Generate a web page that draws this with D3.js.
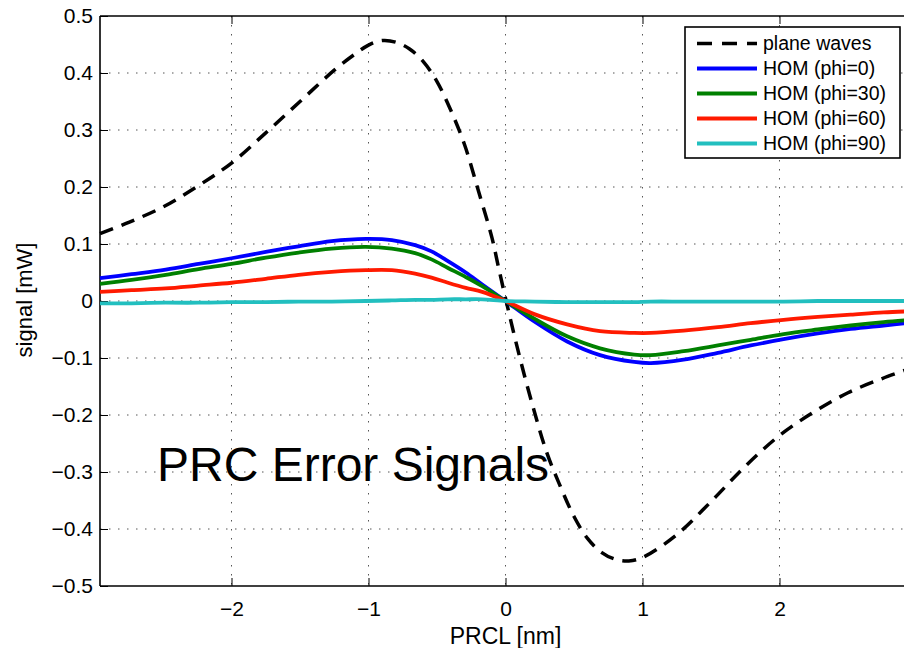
<!DOCTYPE html>
<html>
<head>
<meta charset="utf-8">
<script src="https://cdn.jsdelivr.net/npm/d3@7"></script>
<style>
html,body{margin:0;padding:0;background:#fff;}
svg{display:block;}
text{font-family:"Liberation Sans",Arial,Helvetica,sans-serif;fill:#000;}
</style>
</head>
<body>
<svg id="chart" width="904" height="648"></svg>
<script>
// ---- data ----
const planeX = [-2.96,-2.75,-2.50,-2.25,-2.00,-1.75,-1.50,-1.25,-1.10,-1.00,-0.90,-0.80,-0.70,-0.60,-0.50,-0.40,-0.30,-0.20,-0.10,-0.05,0.00,0.10,0.20,0.30,0.40,0.50,0.60,0.70,0.80,0.90,1.00,1.25,1.50,1.75,2.00,2.25,2.50,2.75,2.96];
const planeY = [0.118,0.138,0.165,0.201,0.242,0.295,0.350,0.405,0.433,0.449,0.457,0.454,0.442,0.420,0.385,0.335,0.275,0.195,0.112,0.058,0.005,-0.095,-0.185,-0.265,-0.325,-0.378,-0.417,-0.441,-0.453,-0.456,-0.450,-0.410,-0.352,-0.290,-0.236,-0.195,-0.161,-0.136,-0.118];

const homX = [-2.96,-2.73,-2.48,-2.24,-2.00,-1.75,-1.51,-1.27,-1.02,-0.83,-0.66,-0.54,-0.42,-0.29,-0.17,0.00,0.21,0.45,0.69,0.94,1.06,1.30,1.55,1.79,2.03,2.28,2.52,2.76,2.96];
const hom0  = [0.040,0.047,0.055,0.065,0.075,0.086,0.096,0.105,0.109,0.107,0.098,0.087,0.070,0.050,0.029,0.000,-0.036,-0.071,-0.095,-0.107,-0.109,-0.103,-0.091,-0.078,-0.067,-0.057,-0.049,-0.043,-0.038];
const hom30 = [0.030,0.037,0.046,0.056,0.065,0.076,0.085,0.092,0.095,0.092,0.084,0.073,0.058,0.042,0.026,0.000,-0.031,-0.062,-0.083,-0.094,-0.095,-0.088,-0.078,-0.068,-0.058,-0.050,-0.043,-0.037,-0.033];
const hom60 = [0.016,0.019,0.022,0.027,0.032,0.039,0.046,0.051,0.054,0.054,0.048,0.041,0.032,0.023,0.016,0.000,-0.023,-0.041,-0.053,-0.056,-0.056,-0.052,-0.046,-0.039,-0.033,-0.028,-0.024,-0.020,-0.018];
const hom90 = [-0.004,-0.004,-0.003,-0.003,-0.002,-0.002,-0.001,-0.001,0.000,0.001,0.002,0.002,0.003,0.003,0.003,0.000,-0.001,-0.002,-0.002,-0.002,-0.001,-0.001,-0.001,-0.001,-0.001,0.000,0.000,0.000,0.000];

const seriesNames = ["plane waves","HOM (phi=0)","HOM (phi=30)","HOM (phi=60)","HOM (phi=90)"];
const xTicks = [-2,-1,0,1,2];
const yTicks = [-0.5,-0.4,-0.3,-0.2,-0.1,0,0.1,0.2,0.3,0.4,0.5];
const xDomain = [-2.96,2.96];
const yDomain = [-0.5,0.5];
const titleText = "PRC Error Signals";
const xLabel = "PRCL [nm]";
const yLabel = "signal [mW]";

// ---- layout ----
const L = 100, T = 16, R = 911, B = 586;
const svg = d3.select("#chart");
const x = d3.scaleLinear().domain(xDomain).range([L,R]);
const y = d3.scaleLinear().domain(yDomain).range([B,T]);
const fmt = d => d === 0 ? "0" : d3.format(".1~f")(d).replace("-", "\u2212");
const fmtX = d => String(d).replace("-", "\u2212");

// grid
const grid = svg.append("g").attr("stroke","#555").attr("stroke-width",1).attr("stroke-dasharray","1.5,7.5");
grid.selectAll(".gx").data(xTicks).join("line")
  .attr("x1",d=>x(d)).attr("x2",d=>x(d)).attr("y1",T).attr("y2",B);
grid.selectAll(".gy").data(yTicks.filter(d=>d>-0.5 && d<0.5)).join("line")
  .attr("y1",d=>y(d)).attr("y2",d=>y(d)).attr("x1",L).attr("x2",R);

// axes via d3.axis with inward ticks
const axB = svg.append("g").attr("transform",`translate(0,${B})`)
  .call(d3.axisBottom(x).tickValues(xTicks).tickSize(-8).tickPadding(15).tickFormat(fmtX));
const axT = svg.append("g").attr("transform",`translate(0,${T})`)
  .call(d3.axisTop(x).tickValues(xTicks).tickSize(-8).tickFormat(""));
const axL = svg.append("g").attr("transform",`translate(${L},0)`)
  .call(d3.axisLeft(y).tickValues(yTicks).tickSize(-8).tickPadding(7).tickFormat(fmt));
[axB,axT,axL].forEach(a=>{
  a.select(".domain").attr("stroke","#000").attr("stroke-width",1.6);
  a.selectAll(".tick line").attr("stroke","#000").attr("stroke-width",1);
  a.selectAll(".tick text").attr("font-size",21).attr("font-family","Liberation Sans, Arial, sans-serif").attr("fill","#000");
});
axB.select(".domain").attr("d",`M${L},0H${R}`);
axT.select(".domain").attr("d",`M${L},0H${R}`);
axL.select(".domain").attr("d",`M0,${T}V${B}`);

// lines
const line = d3.line().x(d=>x(d[0])).y(d=>y(d[1])).curve(d3.curveCatmullRom.alpha(0.5));
const plotG = svg.append("g");
plotG.append("path").datum(planeX.map((v,i)=>[v,planeY[i]]))
  .attr("d",line).attr("fill","none").attr("stroke","#000").attr("stroke-width",3.5).attr("stroke-dasharray","14,9");
const homSeries = [hom0,hom30,hom60,hom90];
const colors = ["#0000ff","#008000","#ff1a00","#22bfbf"];
homSeries.forEach((s,k)=>{
  plotG.append("path").datum(homX.map((v,i)=>[v,s[i]]))
    .attr("d",line).attr("fill","none").attr("stroke",colors[k]).attr("stroke-width",3.8).attr("stroke-linejoin","round");
});

// axis labels
svg.append("text").attr("x",x(0)).attr("y",644)
  .attr("text-anchor","middle").attr("font-size",23).text(xLabel);
svg.append("text").attr("transform","translate(32,300) rotate(-90)")
  .attr("text-anchor","middle").attr("font-size",22).text(yLabel);

// title annotation
svg.append("text").attr("x",157).attr("y",481).attr("font-size",48).text(titleText);

// legend
const lg = svg.append("g");
lg.append("rect").attr("x",685).attr("y",27).attr("width",215).attr("height",131)
  .attr("fill","#fff").attr("stroke","#000").attr("stroke-width",1.6);
const legColors = ["#000"].concat(colors);
seriesNames.forEach((n,i)=>{
  const yy = 43.5 + i*25;
  lg.append("line").attr("x1",697).attr("x2",757).attr("y1",yy).attr("y2",yy)
    .attr("stroke",legColors[i]).attr("stroke-width",i===0?3.5:3.8)
    .attr("stroke-dasharray",i===0?"15,10":null);
  lg.append("text").attr("x",763).attr("y",yy).attr("dy","0.35em").attr("font-size",19.5).text(n);
});
</script>
</body>
</html>
